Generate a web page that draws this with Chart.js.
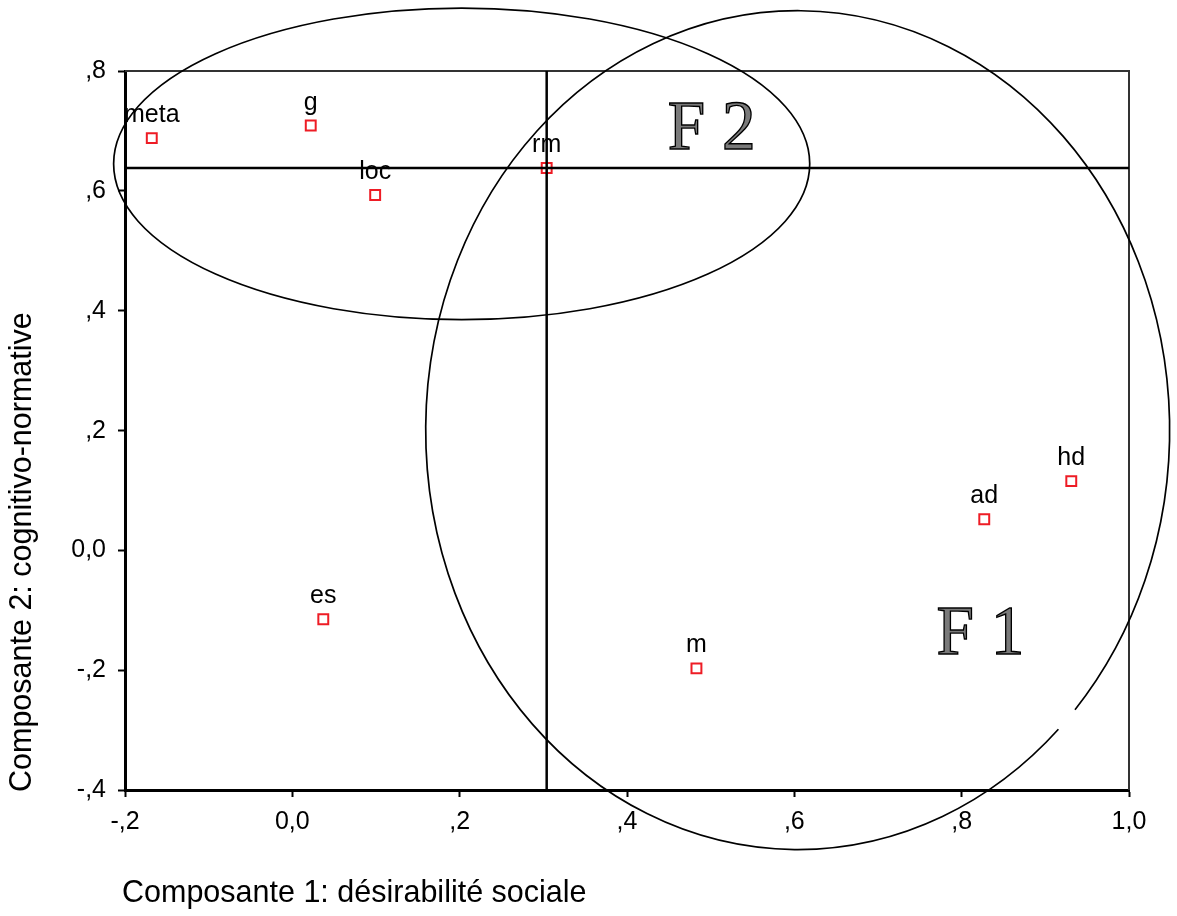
<!DOCTYPE html>
<html>
<head>
<meta charset="utf-8">
<script src="https://cdn.jsdelivr.net/npm/chart.js@4.4.1/dist/chart.umd.min.js"></script>
<style>
  html, body { margin: 0; padding: 0; background: #ffffff; }
  #wrap { width: 1177px; height: 916px; }
</style>
</head>
<body>
<div id="wrap"><canvas id="c" width="1177" height="916"></canvas></div>
<script>
// ---------------- data ----------------
const pointLabels = ['meta', 'g', 'loc', 'rm', 'es', 'm', 'ad', 'hd'];
const comp1Values = [-0.168, 0.022, 0.099, 0.304, 0.037, 0.483, 0.827, 0.931];
const comp2Values = [0.688, 0.709, 0.593, 0.638, -0.115, -0.197, 0.052, 0.1155];

const xTickLabels = ['-,2', '0,0', ',2', ',4', ',6', ',8', '1,0'];
const yTickLabels = ['-,4', '-,2', '0,0', ',2', ',4', ',6', ',8'];

const xTitle = 'Composante 1: désirabilité sociale';
const yTitle = 'Composante 2: cognitivo-normative';

// reference point for the crosshair lines
const crossIndex = pointLabels.indexOf('rm');

// factor ellipses (data units): centre x, centre y, radius x, radius y
const ellipseF2 = [0.2024, 0.645, 0.416, 0.260];
const ellipseF1 = [0.604, 0.2006, 0.4446, 0.700];
const factorNames = ['F 2', 'F 1'];
const factorTextPos = [[0.4486, 0.669], [0.770, -0.173]];

// ---------------- chart ----------------
const FONT = "'Liberation Sans', Arial, Helvetica, sans-serif";
const STRETCH = 1.04;
const points = comp1Values.map((x, i) => ({ x: x, y: comp2Values[i] }));

function sText(ctx, text, x, y, align, baseline, rot) {
  ctx.save();
  ctx.translate(x, y);
  if (rot) ctx.rotate(rot);
  ctx.scale(1, STRETCH);
  ctx.textAlign = align;
  ctx.textBaseline = baseline;
  ctx.fillText(text, 0, 0);
  ctx.restore();
}

const overlay = {
  id: 'overlay',
  afterDraw(chart) {
    const ctx = chart.ctx;
    const xs = chart.scales.x, ys = chart.scales.y;
    const a = chart.chartArea;
    ctx.save();

    // frame top and right
    ctx.strokeStyle = '#333333';
    ctx.lineWidth = 2;
    ctx.beginPath();
    ctx.moveTo(a.left, a.top);
    ctx.lineTo(a.right, a.top);
    ctx.lineTo(a.right, a.bottom);
    ctx.stroke();

    // crosshair through rm
    const px = xs.getPixelForValue(comp1Values[crossIndex]);
    const py = ys.getPixelForValue(comp2Values[crossIndex]);
    ctx.strokeStyle = '#000000';
    ctx.lineWidth = 2.5;
    ctx.beginPath();
    ctx.moveTo(a.left, py); ctx.lineTo(a.right, py);
    ctx.moveTo(px, a.top); ctx.lineTo(px, a.bottom);
    ctx.stroke();

    // tick labels
    ctx.fillStyle = '#000000';
    ctx.font = '25px ' + FONT;
    xs.ticks.forEach((t) => {
      sText(ctx, xTickLabels[Math.round((t.value + 0.2) / 0.2)], xs.getPixelForValue(t.value), a.bottom + 32, 'center', 'middle');
    });
    ys.ticks.forEach((t) => {
      sText(ctx, yTickLabels[Math.round((t.value + 0.4) / 0.2)], a.left - 19, ys.getPixelForValue(t.value), 'right', 'middle');
    });

    // axis titles
    ctx.font = '30.5px ' + FONT;
    sText(ctx, xTitle, a.left - 3, 893, 'left', 'middle');
    sText(ctx, yTitle, 22, a.bottom + 2, 'left', 'middle', -Math.PI / 2);

    // point labels
    ctx.font = '25px ' + FONT;
    const meta = chart.getDatasetMeta(0);
    meta.data.forEach((el, i) => {
      sText(ctx, pointLabels[i], el.x, el.y - 16, 'center', 'alphabetic');
    });

    // ellipses
    function ell(e, start, end) {
      const cx = xs.getPixelForValue(e[0]);
      const cy = ys.getPixelForValue(e[1]);
      const rx = xs.getPixelForValue(e[0] + e[2]) - cx;
      const ry = ys.getPixelForValue(e[1] - e[3]) - cy;
      ctx.beginPath();
      ctx.ellipse(cx, cy, rx, ry, 0, start, end);
      ctx.stroke();
    }
    ctx.strokeStyle = '#000000';
    ctx.lineWidth = 1.7;
    ell(ellipseF2, 0, Math.PI * 2);
    const g0 = 45.5 * Math.PI / 180, g1 = 41.8 * Math.PI / 180;
    ell(ellipseF1, g0, g1 + Math.PI * 2);

    // factor names
    ctx.font = "66px 'Liberation Serif', 'DejaVu Serif', serif";
    ctx.lineWidth = 1.3;
    ctx.strokeStyle = '#000000';
    ctx.fillStyle = '#7a7a7a';
    factorNames.forEach((t, i) => {
      const tx = xs.getPixelForValue(factorTextPos[i][0]);
      const ty = ys.getPixelForValue(factorTextPos[i][1]);
      ctx.save();
      ctx.translate(tx, ty);
      ctx.scale(1.02, 1.05);
      ctx.textAlign = 'left';
      ctx.textBaseline = 'alphabetic';
      ctx.fillText(t, 0, 0);
      ctx.strokeText(t, 0, 0);
      ctx.restore();
    });

    ctx.restore();
  }
};

new Chart(document.getElementById('c'), {
  type: 'scatter',
  data: {
    datasets: [{
      data: points,
      pointStyle: 'rect',
      pointRadius: 7,
      pointHoverRadius: 7,
      pointBorderWidth: 2,
      pointBorderColor: '#ee1c25',
      pointBackgroundColor: '#ffffff',
      showLine: false
    }]
  },
  options: {
    responsive: false,
    devicePixelRatio: 1,
    animation: false,
    events: [],
    layout: { padding: { top: 71, right: 48, left: 0, bottom: 0 } },
    plugins: { legend: { display: false }, tooltip: { enabled: false } },
    scales: {
      x: {
        type: 'linear',
        min: -0.2, max: 1.0,
        afterFit(s) { s.height = 126; },
        ticks: { stepSize: 0.2, display: false },
        grid: { drawOnChartArea: false, drawTicks: true, tickLength: 7, tickColor: '#000000', tickWidth: 2, color: '#000000' },
        border: { display: true, color: '#000000', width: 3 },
        title: { display: false }
      },
      y: {
        type: 'linear',
        min: -0.4, max: 0.8,
        afterFit(s) { s.width = 125; },
        ticks: { stepSize: 0.2, display: false },
        grid: { drawOnChartArea: false, drawTicks: true, tickLength: 7, tickColor: '#000000', tickWidth: 2, color: '#000000' },
        border: { display: true, color: '#000000', width: 3 },
        title: { display: false }
      }
    }
  },
  plugins: [overlay]
});
</script>
</body>
</html>
